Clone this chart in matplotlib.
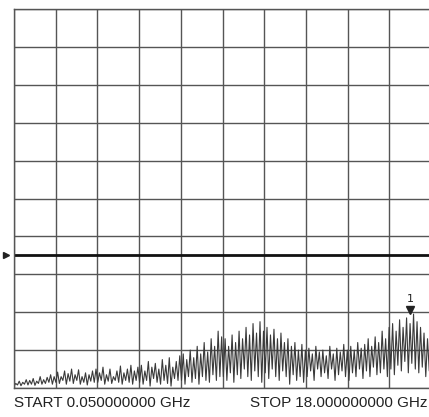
import numpy as np
import matplotlib
matplotlib.use("Agg")
import matplotlib.pyplot as plt

# sweep settings (GHz) and display in divisions (0 = bottom, 10 = top)
START_GHZ = 0.05
STOP_GHZ = 18.0
REF_LEVEL_DIV = 3.5
MARKER_GHZ = 17.1
MARKER_DIV = 1.95

# trace peaks / troughs per division
peaks = [
    0.12, 0.18, 0.15, 0.22, 0.20, 0.25, 0.18, 0.30, 0.22, 0.28, 0.35, 0.30,
    0.42, 0.30, 0.45, 0.38, 0.50, 0.35, 0.48, 0.30, 0.40, 0.35, 0.45, 0.50,
    0.40, 0.55, 0.35, 0.50, 0.30, 0.45, 0.58, 0.40, 0.50, 0.60, 0.45, 0.55,
    0.60, 0.45, 0.70, 0.55, 0.65, 0.50, 0.75, 0.60, 0.80, 0.55, 0.70, 0.85,
    0.90, 0.75, 1.00, 0.80, 1.10, 0.90, 1.20, 0.95, 1.30, 1.10, 1.50, 1.35,
    1.30, 1.10, 1.40, 1.20, 1.50, 1.30, 1.60, 1.40, 1.70, 1.45, 1.75, 1.50,
    1.60, 1.40, 1.55, 1.30, 1.45, 1.20, 1.30, 1.10, 1.20, 1.00, 1.15, 1.00,
    1.05, 0.90, 1.10, 0.95, 1.00, 0.85, 1.10, 0.90, 1.05, 0.95, 1.15, 1.00,
    1.10, 1.00, 1.20, 1.05, 1.15, 1.30, 1.10, 1.35, 1.20, 1.50, 1.30, 1.60,
    1.70, 1.50, 1.80, 1.60, 1.85, 1.70, 1.95, 1.75, 1.60, 1.45, 1.30, 1.20,
]
troughs = [
    0.05, 0.08, 0.06, 0.10, 0.08, 0.10, 0.07, 0.12, 0.10, 0.12, 0.15, 0.10,
    0.15, 0.12, 0.20, 0.10, 0.18, 0.12, 0.20, 0.10, 0.15, 0.08, 0.18, 0.15,
    0.15, 0.20, 0.10, 0.18, 0.12, 0.20, 0.15, 0.10, 0.20, 0.15, 0.10, 0.20,
    0.15, 0.10, 0.20, 0.05, 0.25, 0.15, 0.10, 0.20, 0.12, 0.05, 0.25, 0.20,
    0.20, 0.10, 0.30, 0.15, 0.25, 0.10, 0.30, 0.20, 0.15, 0.35, 0.20, 0.30,
    0.30, 0.20, 0.40, 0.15, 0.35, 0.25, 0.50, 0.30, 0.20, 0.45, 0.30, 0.15,
    0.40, 0.25, 0.50, 0.30, 0.20, 0.45, 0.30, 0.10, 0.35, 0.20, 0.30, 0.15,
    0.30, 0.45, 0.20, 0.50, 0.30, 0.40, 0.25, 0.50, 0.20, 0.35, 0.45, 0.30,
    0.20, 0.40, 0.30, 0.50, 0.25, 0.45, 0.30, 0.55, 0.35, 0.40, 0.50, 0.30,
    0.50, 0.35, 0.60, 0.45, 0.70, 0.40, 0.65, 0.50, 0.40, 0.55, 0.30, 0.45,
]

trace = np.empty(len(peaks) * 2)
trace[0::2] = troughs
trace[1::2] = peaks
freq = np.linspace(START_GHZ, STOP_GHZ, len(trace))

W, H = 429, 417
fig = plt.figure(figsize=(W / 100, H / 100), dpi=100)
ax = fig.add_axes([14 / W, 29 / H, 417 / W, 379 / H])

span = STOP_GHZ - START_GHZ
ax.set_xlim(START_GHZ, STOP_GHZ)
ax.set_ylim(0, 10)
ax.set_xticks([START_GHZ + span * i / 10 for i in range(11)])
ax.set_yticks(range(11))
ax.tick_params(length=0, labelbottom=False, labelleft=False)
ax.grid(True, color="#555555", lw=1.0)
for s in ax.spines.values():
    s.set_color("#555555")
    s.set_linewidth(1.0)
ax.spines["right"].set_visible(False)

ax.plot(freq, trace, color="#3a3a3a", lw=0.8)

# reference level line + arrow
ax.axhline(REF_LEVEL_DIV, color="#111111", lw=2.0)
ax.plot([START_GHZ - span * 0.018], [REF_LEVEL_DIV], marker=">", color="#222222",
        ms=5, clip_on=False)

# marker 1
ax.plot([MARKER_GHZ], [MARKER_DIV + 0.1], marker="v", color="#222222", ms=6)
ax.text(MARKER_GHZ, MARKER_DIV + 0.26, "1", ha="center", va="bottom",
        fontsize=8, color="#222222")

fig.text(14 / W, 1 - 403 / H, "START 0.050000000 GHz", ha="left", va="center",
         fontsize=11, family="Liberation Sans", color="#222222")
fig.text(428 / W, 1 - 403 / H, "STOP 18.000000000 GHz", ha="right", va="center",
         fontsize=11, family="Liberation Sans", color="#222222")

fig.savefig("out.png", dpi=100)
